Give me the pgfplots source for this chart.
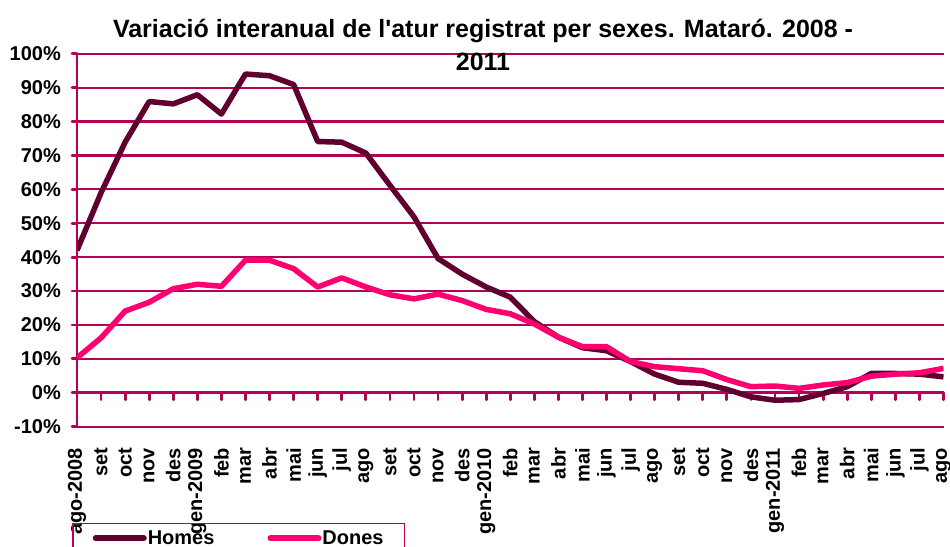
\documentclass[border=0pt]{standalone}
\usepackage{fontspec}
\setmainfont{Liberation Sans}
\usepackage{pgfplots}
\pgfplotsset{compat=1.18}
\definecolor{gridc}{RGB}{180,0,85}
\definecolor{homes}{RGB}{96,0,48}
\definecolor{dones}{RGB}{255,0,112}
\newcommand{\lf}{\bfseries\fontsize{20}{22}\selectfont}

\pgfplotstableread{
x homes dones
0 42.0 10.3
1 59.0 16.2
2 73.9 24.1
3 85.9 26.7
4 85.2 30.7
5 87.9 32.0
6 82.2 31.4
7 94.0 39.1
8 93.5 39.1
9 90.9 36.6
10 74.1 31.2
11 73.9 33.9
12 70.7 31.2
13 61.2 28.9
14 51.9 27.7
15 39.6 29.1
16 35.0 27.2
17 31.2 24.6
18 28.2 23.3
19 21.0 20.3
20 16.4 16.4
21 13.3 13.6
22 12.4 13.6
23 9.2 9.2
24 5.5 7.7
25 3.1 7.1
26 2.8 6.5
27 1.0 3.9
28 -1.2 1.8
29 -2.2 2.0
30 -2.0 1.3
31 -0.2 2.3
32 1.8 3.0
33 5.7 4.9
34 5.7 5.5
35 5.5 5.9
36 4.7 7.2
}\datatable

\begin{document}
\begin{tikzpicture}
\path[use as bounding box, clip] (0,0) rectangle (950pt,546pt);
\begin{axis}[
  at={(77pt,119.3pt)}, anchor=south west,
  scale only axis, width=866.5pt, height=373pt,
  xmin=0, xmax=36, ymin=-10, ymax=100,
  axis x line=bottom, axis y line=left,
  axis line style={-},
  x axis line style={draw=gridc, line width=2.2pt},
  y axis line style={draw=gridc, line width=2.8pt},
  xtick={0,...,36},
  xticklabels={ago-2008,set,oct,nov,des,gen-2009,feb,mar,abr,mai,jun,jul,ago,set,oct,nov,des,gen-2010,feb,mar,abr,mai,jun,jul,ago,set,oct,nov,des,gen-2011,feb,mar,abr,mai,jun,jul,ago},
  xtick style={draw=none},
  ytick={-10,0,...,100},
  yticklabel={\pgfmathprintnumber[assume math mode=true]{\tick}\%},
  ytick style={draw=gridc, line width=2.8pt, line cap=round},
  tick align=outside, major tick length=5pt,
  ymajorgrids, grid style={draw=gridc, line width=2.2pt},
  ticklabel style={font=\lf},
  xticklabel shift=16pt,
  xticklabel style={rotate=90, anchor=east, inner sep=0pt},
  yticklabel style={anchor=east, inner sep=0pt, xshift=-11pt},
  title={Variació interanual de l\textquotesingle atur registrat per sexes. Mataró. 2008 -\\2011},
  title style={font=\bfseries\fontsize{25}{33}\selectfont, align=center, at={(0.4686,1)}, anchor=north, yshift=29pt, inner sep=0pt},
]
\end{axis}
\begin{axis}[
  at={(77pt,119.3pt)}, anchor=south west,
  scale only axis, width=866.5pt, height=373pt,
  xmin=0, xmax=36, ymin=-10, ymax=100,
  axis x line=middle, axis y line=none,
  axis line style={-},
  x axis line style={draw=gridc, line width=3.2pt},
  xtick={0,...,36}, xticklabels={}, ytick=\empty,
  xtick style={draw=gridc, line width=2.8pt, line cap=round},
  tick align=outside, major tick length=7pt,
  legend columns=2,
  legend style={at={(-0.00577,-0.258)}, anchor=north west, draw=gridc, fill=none, line width=1.5pt,
    inner xsep=20pt, inner ysep=6pt, font=\lf, nodes={inner sep=1pt},
    /tikz/every even column/.append style={column sep=52pt}},
  legend image code/.code={\draw[#1, line width=6pt, line cap=round] (0pt,0pt) -- (48pt,0pt);},
]
\addplot[homes, line width=5.5pt, line join=round] table[x=x, y=homes] {\datatable};
\addlegendentry{Homes}
\addplot[dones, line width=5.5pt, line join=round] table[x=x, y=dones] {\datatable};
\addlegendentry{Dones}
\end{axis}
\end{tikzpicture}
\end{document}
